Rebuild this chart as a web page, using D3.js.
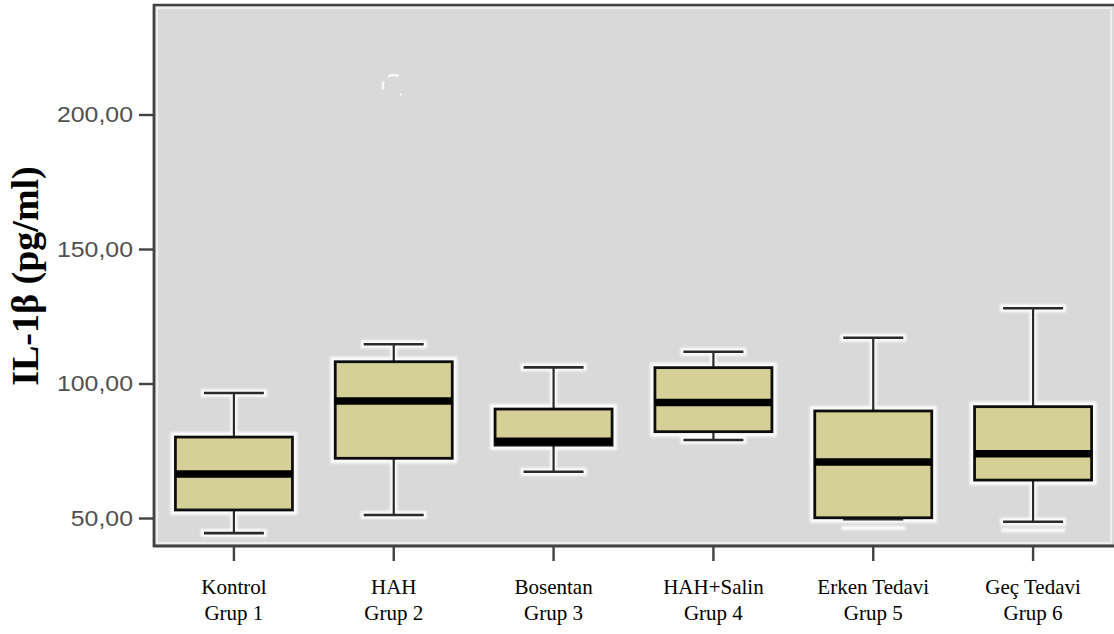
<!DOCTYPE html>
<html>
<head>
<meta charset="utf-8">
<script src="https://cdn.jsdelivr.net/npm/d3@7"></script>
<style>
  html, body { margin: 0; padding: 0; background: #ffffff; }
  svg { display: block; }
</style>
</head>
<body>
<svg id="chart" width="1114" height="634"></svg>
<script>
// IL-1β levels per experimental group (box plot summary statistics, pg/ml)
const categories  = ["Kontrol", "HAH", "Bosentan", "HAH+Salin", "Erken Tedavi", "Geç Tedavi"];
const groupLabels = ["Grup 1", "Grup 2", "Grup 3", "Grup 4", "Grup 5", "Grup 6"];
const whiskerLow  = [44.4, 51.1, 67.2, 79.0, 49.6, 48.6];
const q1          = [53.0, 72.2, 77.1, 82.1, 50.1, 64.1];
const median      = [66.4, 93.5, 78.5, 92.9, 70.8, 73.9];
const q3          = [80.1, 108.1, 90.5, 105.9, 89.8, 91.4];
const whiskerHigh = [96.5, 114.6, 106.0, 111.8, 117.0, 128.0];
// pale trace of an earlier lower whisker position (groups 5 and 6)
const lowerTrace  = [null, null, null, null, 46.3, 45.5];
const outlierGroup = ["HAH"];
const outlierValue = [210.6];
const yTicks = [50, 100, 150, 200];
const yTitle = "IL-1β (pg/ml)";

const rows = categories.map((c, i) => ({
  cat: c, grp: groupLabels[i],
  lo: whiskerLow[i], q1: q1[i], med: median[i], q3: q3[i], hi: whiskerHigh[i],
  trace: lowerTrace[i]
}));

const svg = d3.select("#chart");
const plot = { left: 154, right: 1113, top: 5, bottom: 546 };

const x = d3.scaleBand().domain(categories).range([plot.left, plot.right]);
const y = d3.scaleLinear().domain([39.6, 240.7]).range([plot.bottom, plot.top]);

const locale = d3.formatLocale({ decimal: ",", thousands: ".", grouping: [3], currency: ["", ""] });
const fmt = locale.format(".2f");

const defs = svg.append("defs");
defs.append("filter").attr("id", "glow").attr("x", "-20%").attr("y", "-50%")
  .attr("width", "140%").attr("height", "200%")
  .append("feGaussianBlur").attr("stdDeviation", 1.3);
defs.append("filter").attr("id", "soft")
  .append("feGaussianBlur").attr("stdDeviation", 0.45);

// plot background with its light inner rim
svg.append("rect")
  .attr("x", plot.left).attr("y", plot.top)
  .attr("width", plot.right - plot.left + 10).attr("height", plot.bottom - plot.top)
  .attr("fill", "#d9d9d9");
svg.append("rect")
  .attr("x", plot.left + 3).attr("y", plot.top + 3)
  .attr("width", plot.right - plot.left - 5).attr("height", plot.bottom - plot.top - 6)
  .attr("fill", "none").attr("stroke", "#efefef").attr("stroke-width", 2);

const boxW = 117, capW = 60;
const cx = d => x(d.cat) + x.bandwidth() / 2;

// white halo beneath every mark
const halo = svg.append("g").attr("filter", "url(#glow)")
  .attr("stroke", "#ffffff").attr("opacity", 0.9).attr("fill", "none");
rows.forEach(d => {
  const c = cx(d);
  halo.append("line").attr("x1", c).attr("x2", c).attr("y1", y(d.hi)).attr("y2", y(d.lo)).attr("stroke-width", 7);
  [d.hi, d.lo].forEach(v => halo.append("line")
    .attr("x1", c - capW / 2 - 3).attr("x2", c + capW / 2 + 3)
    .attr("y1", y(v)).attr("y2", y(v)).attr("stroke-width", 8));
  halo.append("rect").attr("x", c - boxW / 2 - 2).attr("y", y(d.q3) - 2)
    .attr("width", boxW + 4).attr("height", y(d.q1) - y(d.q3) + 4)
    .attr("stroke-width", 6);
  if (d.trace != null) {
    halo.append("line")
      .attr("x1", c - capW / 2 - 2).attr("x2", c + capW / 2 + 2)
      .attr("y1", y(d.trace)).attr("y2", y(d.trace)).attr("stroke-width", 4);
  }
});

const marks = svg.append("g").attr("filter", "url(#soft)");
const g = marks.selectAll("g.box").data(rows).join("g").attr("class", "box");

// whisker stems
g.append("line")
  .attr("x1", cx).attr("x2", cx)
  .attr("y1", d => y(d.hi)).attr("y2", d => y(d.lo))
  .attr("stroke", "#2b2b2b").attr("stroke-width", 2.2);
// whisker caps
["hi", "lo"].forEach(k => {
  g.append("line")
    .attr("x1", d => cx(d) - capW / 2).attr("x2", d => cx(d) + capW / 2)
    .attr("y1", d => y(d[k])).attr("y2", d => y(d[k]))
    .attr("stroke", "#2b2b2b").attr("stroke-width", 2.6);
});
// interquartile box
g.append("rect")
  .attr("x", d => cx(d) - boxW / 2).attr("y", d => y(d.q3))
  .attr("width", boxW).attr("height", d => y(d.q1) - y(d.q3))
  .attr("fill", "#d5d098").attr("stroke", "#111111").attr("stroke-width", 2.8);
// median bar
g.append("line")
  .attr("x1", d => cx(d) - boxW / 2).attr("x2", d => cx(d) + boxW / 2)
  .attr("y1", d => y(d.med)).attr("y2", d => y(d.med))
  .attr("stroke", "#000000").attr("stroke-width", 7.5);

// faint outlier marker
outlierGroup.forEach((grp, i) => {
  const c = x(grp) + x.bandwidth() / 2;
  svg.append("circle")
    .attr("cx", c).attr("cy", y(outlierValue[i])).attr("r", 11)
    .attr("fill", "none").attr("stroke", "#f6f6f6").attr("stroke-width", 2.6)
    .attr("stroke-dasharray", "0 8.6 1.8 20.4 8.6 5.8 11.5 40")
    .attr("filter", "url(#soft)");
});

// axes frame lines
const axisColor = "#424242";
svg.append("line").attr("x1", plot.left).attr("x2", plot.left)
  .attr("y1", plot.top - 1).attr("y2", plot.bottom + 1)
  .attr("stroke", axisColor).attr("stroke-width", 2.8);
svg.append("line").attr("x1", plot.left - 1).attr("x2", 1114)
  .attr("y1", plot.top).attr("y2", plot.top)
  .attr("stroke", axisColor).attr("stroke-width", 2.6);
svg.append("line").attr("x1", plot.left - 1).attr("x2", 1114)
  .attr("y1", plot.bottom).attr("y2", plot.bottom)
  .attr("stroke", axisColor).attr("stroke-width", 2.8);

// y axis
const stretch = 1.13;
const yAxis = svg.append("g")
  .attr("transform", `translate(${plot.left},0)`)
  .call(d3.axisLeft(y).tickValues(yTicks).tickFormat(fmt).tickSize(15).tickPadding(6));
yAxis.select(".domain").remove();
yAxis.selectAll(".tick line").attr("stroke", axisColor).attr("stroke-width", 2.4);
yAxis.selectAll(".tick text")
  .attr("fill", "#505050")
  .attr("x", -21 / stretch)
  .attr("transform", `scale(${stretch},1)`)
  .style("font-family", "'Liberation Sans', Arial, sans-serif")
  .style("font-size", "22px");

// x axis
const xAxis = svg.append("g")
  .attr("transform", `translate(0,${plot.bottom})`)
  .call(d3.axisBottom(x).tickSize(15).tickFormat(""));
xAxis.select(".domain").remove();
xAxis.selectAll(".tick line").attr("stroke", axisColor).attr("stroke-width", 2.4);

const labels = svg.append("g")
  .style("font-family", "'Liberation Serif', 'Times New Roman', serif")
  .style("font-size", "21px").attr("fill", "#000000").attr("text-anchor", "middle");
rows.forEach(d => {
  const t = labels.append("text").attr("x", cx(d)).attr("y", 594);
  t.append("tspan").attr("x", cx(d)).text(d.cat);
  t.append("tspan").attr("x", cx(d)).attr("dy", 26).text(d.grp);
});

// y axis title
svg.append("text")
  .attr("transform", `translate(38,276) rotate(-90)`)
  .attr("text-anchor", "middle")
  .style("font-family", "'Liberation Serif', 'Times New Roman', serif")
  .style("font-weight", "bold").style("font-size", "38px")
  .text(yTitle);
</script>
</body>
</html>
